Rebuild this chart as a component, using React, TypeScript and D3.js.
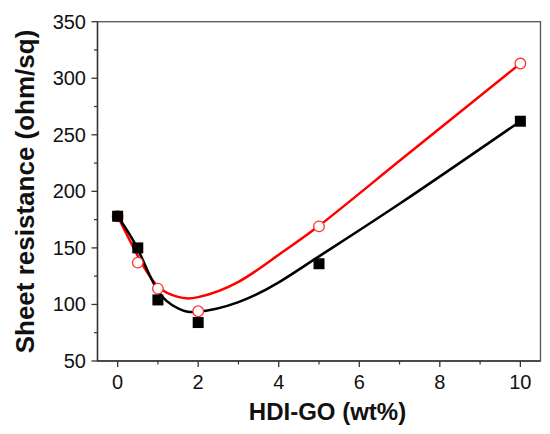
import React from "react";
import * as d3 from "d3";

// Measured data points
const xValues = [0, 0.5, 1, 2, 5, 10];
const blackValues = [178, 150, 104, 84, 136, 262];
const redValues = [178, 137, 114, 94, 169, 313];

// Fitted curves
const fitX = [0, 0.5, 1, 1.5, 2, 3, 4, 5, 7, 10];
const blackFit = [178, 149, 112, 96.5, 93.5, 102, 119.5, 142.5, 189, 262];
const redFit = [178, 143, 116, 106.7, 106.5, 120, 144, 169.5, 227, 313];

const xMajor = [0, 2, 4, 6, 8, 10];
const xMinor = [1, 3, 5, 7, 9];
const yMajor = [50, 100, 150, 200, 250, 300, 350];
const yMinor = [75, 125, 175, 225, 275, 325];

const W = 550;
const H = 434;
const L = 97.5;
const R = 540.5;
const T = 21.7;
const B = 361;

export default function App() {
  const x = d3.scaleLinear().domain([-0.5, 10.5]).range([L, R]);
  const y = d3.scaleLinear().domain([50, 350]).range([B, T]);

  const mk = (vals: number[]) =>
    d3
      .line<number>()
      .x((_, i) => x(fitX[i]))
      .y((v) => y(v))
      .curve(d3.curveNatural)(vals) || "";

  const blackPath = mk(blackFit);
  const redPath = mk(redFit);

  const font = "'Liberation Sans', Arial, sans-serif";
  const axisColor = "#333";

  return (
    <svg
      width={W}
      height={H}
      style={{ position: "absolute", left: 0, top: 0, background: "#fff" }}
      fontFamily={font}
    >
      <rect x={0} y={0} width={W} height={H} fill="#fff" />
      {/* frame */}
      <rect x={L} y={T} width={R - L} height={B - T} fill="none" stroke="#555" strokeWidth={1.3} />
      <line x1={L} y1={T} x2={L} y2={B} stroke={axisColor} strokeWidth={1.4} />
      <line x1={L} y1={B} x2={R} y2={B} stroke={axisColor} strokeWidth={1.4} />

      {/* x ticks */}
      {xMajor.map((v) => (
        <g key={"xm" + v}>
          <line x1={x(v)} x2={x(v)} y1={B} y2={B + 6} stroke={axisColor} strokeWidth={1.3} />
          <text x={x(v)} y={389} fontSize={20} textAnchor="middle" fill="#111">
            {v}
          </text>
        </g>
      ))}
      {xMinor.map((v) => (
        <line key={"xn" + v} x1={x(v)} x2={x(v)} y1={B} y2={B + 3.5} stroke={axisColor} strokeWidth={1.2} />
      ))}

      {/* y ticks */}
      {yMajor.map((v) => (
        <g key={"ym" + v}>
          <line x1={L - 6} x2={L} y1={y(v)} y2={y(v)} stroke={axisColor} strokeWidth={1.3} />
          <text x={86} y={y(v) + 7} fontSize={20} textAnchor="end" fill="#111">
            {v}
          </text>
        </g>
      ))}
      {yMinor.map((v) => (
        <line key={"yn" + v} x1={L - 3.5} x2={L} y1={y(v)} y2={y(v)} stroke={axisColor} strokeWidth={1.2} />
      ))}

      {/* curves */}
      <path d={redPath} fill="none" stroke="#ff0000" strokeWidth={2.5} />
      <path d={blackPath} fill="none" stroke="#000" strokeWidth={2.5} />

      {/* markers */}
      {xValues.map((v, i) => (
        <circle
          key={"r" + i}
          cx={x(v)}
          cy={y(redValues[i])}
          r={5.3}
          fill="#fff"
          stroke="#ff3030"
          strokeWidth={1.3}
        />
      ))}
      {xValues.map((v, i) => (
        <rect
          key={"b" + i}
          x={x(v) - 5.5}
          y={y(blackValues[i]) - 5.5}
          width={11}
          height={11}
          fill="#000"
        />
      ))}

      {/* titles */}
      <text x={327.5} y={420} fontSize={24} fontWeight="bold" textAnchor="middle" fill="#111">
        HDI-GO (wt%)
      </text>
      <text
        transform={`translate(34, 191.5) rotate(-90)`}
        fontSize={26}
        fontWeight="bold"
        textAnchor="middle"
        fill="#111"
      >
        Sheet resistance (ohm/sq)
      </text>
    </svg>
  );
}
